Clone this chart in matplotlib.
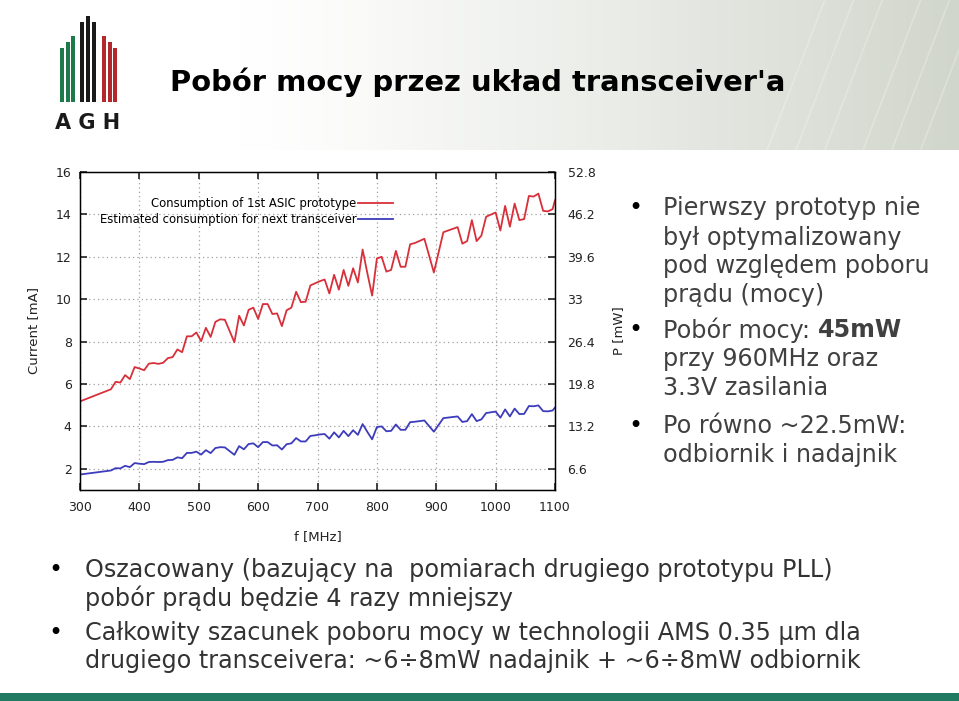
import numpy as np
import matplotlib
matplotlib.use("Agg")
import matplotlib.pyplot as plt
from matplotlib.patches import Rectangle

# ---- data ----
freq_red = [300, 352, 360, 368, 376, 384, 392, 400, 408, 416, 424, 432, 440, 448, 456, 464,
            472, 480, 488, 496, 504, 512, 520, 528, 536, 544, 560, 568, 576, 584, 592, 600,
            608, 616, 624, 632, 640, 648, 656, 664, 672, 680, 688, 696, 704, 712, 720, 728,
            736, 744, 752, 760, 768, 776, 784, 792, 800, 808, 816, 824, 832, 840, 848, 856,
            864, 880, 896, 912, 936, 944, 952, 960, 968, 976, 984, 1000, 1008, 1016, 1024,
            1032, 1040, 1048, 1056, 1064, 1072, 1080, 1088, 1096, 1100]
current_asic = [5.18, 5.75, 6.10, 6.07, 6.42, 6.23, 6.80, 6.73, 6.65, 6.96, 6.99, 6.95, 7.00,
                7.22, 7.27, 7.63, 7.50, 8.25, 8.25, 8.43, 8.02, 8.65, 8.22, 8.93, 9.05, 9.03,
                7.97, 9.22, 8.76, 9.50, 9.60, 9.07, 9.77, 9.77, 9.30, 9.33, 8.73, 9.48, 9.60,
                10.35, 9.86, 9.88, 10.65, 10.75, 10.85, 10.93, 10.27, 11.15, 10.45, 11.38,
                10.63, 11.46, 10.79, 12.34, 11.22, 10.17, 11.92, 12.00, 11.30, 11.38, 12.28,
                11.53, 11.53, 12.59, 12.65, 12.85, 11.26, 13.16, 13.40, 12.62, 12.74, 13.73,
                12.74, 13.00, 13.89, 14.09, 13.24, 14.40, 13.42, 14.51, 13.73, 13.78, 14.87,
                14.84, 14.98, 14.17, 14.14, 14.25, 14.67]
current_next = [1.73, 1.92, 2.03, 2.02, 2.14, 2.08, 2.27, 2.24, 2.22, 2.32, 2.33, 2.32, 2.33,
                2.41, 2.42, 2.54, 2.50, 2.75, 2.75, 2.81, 2.67, 2.88, 2.74, 2.98, 3.02, 3.01,
                2.66, 3.07, 2.92, 3.17, 3.20, 3.02, 3.26, 3.26, 3.10, 3.11, 2.91, 3.16, 3.20,
                3.45, 3.29, 3.29, 3.55, 3.58, 3.62, 3.64, 3.42, 3.72, 3.48, 3.79, 3.54, 3.82,
                3.60, 4.11, 3.74, 3.39, 3.97, 4.00, 3.77, 3.79, 4.09, 3.84, 3.84, 4.20, 4.22,
                4.28, 3.75, 4.39, 4.47, 4.21, 4.25, 4.58, 4.25, 4.33, 4.63, 4.70, 4.41, 4.80,
                4.47, 4.84, 4.58, 4.59, 4.96, 4.95, 4.99, 4.72, 4.71, 4.75, 4.89]

current_ticks = [2, 4, 6, 8, 10, 12, 14, 16]
power_labels = ["6.6", "13.2", "19.8", "26.4", "33", "39.6", "46.2", "52.8"]
freq_ticks = [300, 400, 500, 600, 700, 800, 900, 1000, 1100]

W, H = 959, 701
def fx(x):
    return x / W
def fy(y):
    return 1 - y / H

fig = plt.figure(figsize=(9.59, 7.01), dpi=100)
fig.patch.set_facecolor("white")

# ---- header background ----
hdr = fig.add_axes([0, fy(150), 1, 150 / H])
hdr.set_axis_off()
g = np.linspace(0, 1, 400)
g = np.clip((g - 0.25) / 0.75, 0, 1) ** 1.2
c0 = np.array([1.0, 1.0, 1.0])
c1 = np.array([0.82, 0.84, 0.80])
grad = c0[None, :] * (1 - g[:, None]) + c1[None, :] * g[:, None]
hdr.imshow(grad[None, :, :], aspect="auto", extent=[0, 1, 0, 1])
for x0 in [0.80, 0.83, 0.86, 0.90, 0.93, 0.96]:
    hdr.plot([x0, x0 + 0.06], [0, 1], color="white", alpha=0.25, lw=1.2)
hdr.set_xlim(0, 1)
hdr.set_ylim(0, 1)

# ---- AGH logo ----
logo = fig.add_axes([0, 0, 1, 1])
logo.set_axis_off()
logo.set_xlim(0, W)
logo.set_ylim(H, 0)
stripes = [("#1e7a4a", [60, 65.5, 71], [48, 42, 36]),
           ("#1a1a1a", [80, 86, 92], [22, 16, 22]),
           ("#b3282d", [102, 107.5, 113], [36, 42, 48])]
for col, xs, tops in stripes:
    for x, t in zip(xs, tops):
        logo.add_patch(Rectangle((x, t), 4, 102 - t, color=col, lw=0))
logo.text(88, 123, "A G H", ha="center", va="center", fontsize=15, fontweight="bold",
          color="#1a1a1a", family="DejaVu Sans")
logo.add_patch(Rectangle((0, 693), W, 8, color="#217a62", lw=0))

fig.text(fx(170), fy(82), "Pobór mocy przez układ transceiver'a", fontsize=20.9,
         fontweight="bold", va="center", ha="left", color="black")

# ---- chart ----
ax = fig.add_axes([fx(80), fy(490), (555 - 80) / W, (490 - 172) / H])
ax.plot(freq_red, current_asic, color="#d8303a", lw=1.3,
        label="Consumption of 1st ASIC prototype")
ax.plot(freq_red, current_next, color="#3c3cbc", lw=1.3,
        label="Estimated consumption for next transceiver")
ax.set_xlim(300, 1100)
ax.set_ylim(1, 16)
ax.set_xticks(freq_ticks)
ax.set_yticks(current_ticks)
ax.grid(True, color="#a0a0a0", linestyle=(0, (1, 2.5)), lw=0.9)
ax.tick_params(direction="in", length=5, width=1.2, top=True, right=False,
               labelsize=9, colors="#222222")
ax.tick_params(axis="x", pad=8)
ax.tick_params(axis="y", pad=6)
ax.set_xlabel("f [MHz]", fontsize=9.5, color="#222222")
ax.set_ylabel("Current [mA]", fontsize=9.5, color="#222222")
ax.xaxis.set_label_coords(0.501, -0.125)
ax.yaxis.set_label_coords(-0.085, 0.5)
for s in ax.spines.values():
    s.set_linewidth(1.0)
ax.legend(loc="upper left", bbox_to_anchor=(0.03, 0.94), frameon=False, markerfirst=False,
          fontsize=8.4, handlelength=3.0, handletextpad=0.1, labelspacing=0.3, borderpad=0)

ax2 = ax.twinx()
ax2.set_ylim(1, 16)
ax2.set_yticks(current_ticks)
ax2.set_yticklabels(power_labels)
ax2.tick_params(direction="in", length=5, width=1.2, labelsize=9, colors="#222222", pad=9)
ax2.set_ylabel("P [mW]", fontsize=9.5, color="#222222")
ax2.yaxis.set_label_coords(1.12, 0.5)

# ---- right bullets ----
txt_col = "#404040"
fs = 17.2
right_lines = [(208, "Pierwszy prototyp nie", True), (238, "był optymalizowany", False),
               (266, "pod względem poboru", False), (295, "prądu (mocy)", False),
               (359, "przy 960MHz oraz", False), (388, "3.3V zasilania", False),
               (426, "Po równo ~22.5mW:", True), (455, "odbiornik i nadajnik", False)]
for y, s, bullet in right_lines:
    fig.text(fx(663), fy(y), s, fontsize=fs, va="center", color=txt_col)
    if bullet:
        fig.text(fx(628), fy(y), "•", fontsize=fs, va="center", color="black")
fig.text(fx(628), fy(330), "•", fontsize=fs, va="center", color="black")
t1 = fig.text(fx(663), fy(330), "Pobór mocy: ", fontsize=fs, va="center", color=txt_col)
r = fig.canvas.get_renderer()
bb = t1.get_window_extent(renderer=r)
fig.text(bb.x1 / W, fy(330), "45mW", fontsize=fs, va="center", color=txt_col,
         fontweight="bold")

# ---- bottom bullets ----
bottom_lines = [(570, "Oszacowany (bazujący na  pomiarach drugiego prototypu PLL)", True),
                (598, "pobór prądu będzie 4 razy mniejszy", False),
                (633, "Całkowity szacunek poboru mocy w technologii AMS 0.35 µm dla", True),
                (661, "drugiego transceivera: ~6÷8mW nadajnik + ~6÷8mW odbiornik", False)]
for y, s, bullet in bottom_lines:
    fig.text(fx(85), fy(y), s, fontsize=fs, va="center", color="#333333")
    if bullet:
        fig.text(fx(48), fy(y), "•", fontsize=fs, va="center", color="black")

fig.savefig("out.png", dpi=100)
